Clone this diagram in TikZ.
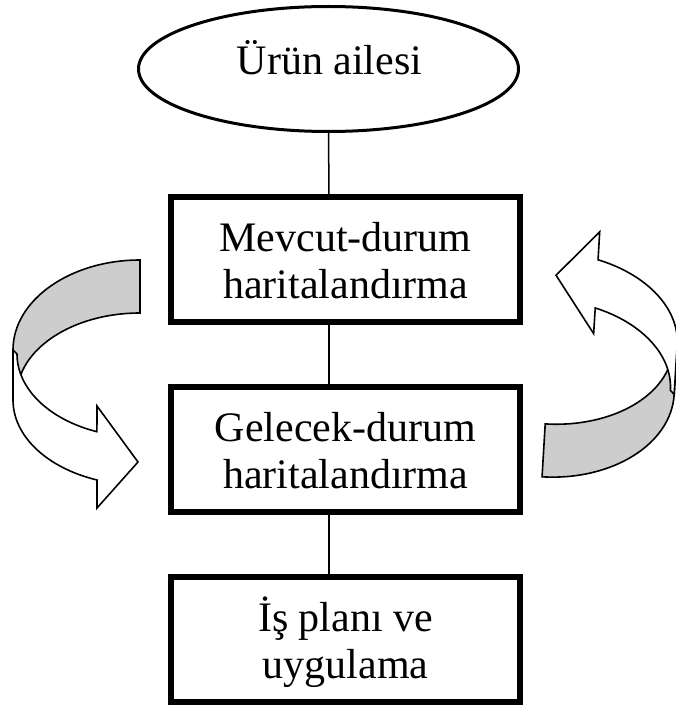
\documentclass[tikz,border=0pt]{standalone}
\usepackage{fontspec}
\setmainfont{Liberation Serif}
\usetikzlibrary{shapes.geometric}
\definecolor{bandgrey}{RGB}{205,205,205}

\tikzset{
  lbl/.style={font=\fontsize{42pt}{47pt}\selectfont, inner sep=0pt, anchor=base},
  stagebox/.style={draw, line width=5.6pt, minimum width=349.4pt, minimum height=125.4pt,
                   inner sep=0pt, outer sep=0pt},
  topoval/.style={draw, ellipse, line width=3pt, minimum width=380pt, minimum height=125pt,
                  inner sep=0pt, outer sep=0pt},
  link/.style={draw, line width=1.5pt},
  bandback/.style={draw, fill=bandgrey, line width=1.6pt},
  bandfront/.style={draw, fill=white, line width=1.6pt}
}

% Curved ribbon arrow; origin near the middle of its bend (y grows downward)
\newcommand\ribbonarrow{%
  % rear part of the ribbon (shaded)
  \path[bandback] (0,-112)
     arc[start angle=90, end angle=180, x radius=127pt, y radius=90pt]
     -- (-127,23) -- (-123,23)
     arc[start angle=180, end angle=90, x radius=123pt, y radius=82pt]
     -- cycle;
  % front part of the ribbon with the arrow head
  \path[bandfront] (-127,-22) -- (-127,28)
     arc[start angle=180, end angle=250.2, x radius=127pt, y radius=85pt]
     -- (-43,136) -- (-2,90) -- (-43,34) -- (-43.07,59.7)
     arc[start angle=249.5, end angle=180, x radius=123pt, y radius=83pt]
     -- cycle;
}

\begin{document}
\begin{tikzpicture}[x=1pt, y=-1pt]
  \useasboundingbox (0,0) rectangle (675,706);

  % top oval
  \node[topoval] (ell) at (328.5,69) {};
  \node[lbl] (t0) at (329.5,75) {Ürün ailesi};

  % stage boxes
  \node[stagebox] (b1) at (345.5,259.5) {};
  \node[stagebox] (b2) at (345.5,449.5) {};
  \node[stagebox] (b3) at (345.5,639.5) {};

  \node[lbl] (t1a) at (345.5,251) {Mevcut-durum};
  \node[lbl] (t1b) at (345.5,298) {haritalandırma};
  \node[lbl] (t2a) at (345.5,441) {Gelecek-durum};
  \node[lbl] (t2b) at (345.5,488) {haritalandırma};
  \node[lbl] (t3a) at (345.5,631) {İş planı ve};
  \node[lbl] (t3b) at (345.5,678) {uygulama};

  % vertical links
  \coordinate (lx) at (329,0);
  \path[link] (ell.south) -- (lx |- b1.north);
  \path[link] (lx |- b1.south) -- (lx |- b2.north);
  \path[link] (lx |- b2.south) -- (lx |- b3.north);

  % curved arrows on both sides
  \begin{scope}[shift={(140,372)}]
    \ribbonarrow
  \end{scope}
  \begin{scope}[shift={(548.7,365)}, rotate=176.6]
    \ribbonarrow
  \end{scope}
\end{tikzpicture}
\end{document}
